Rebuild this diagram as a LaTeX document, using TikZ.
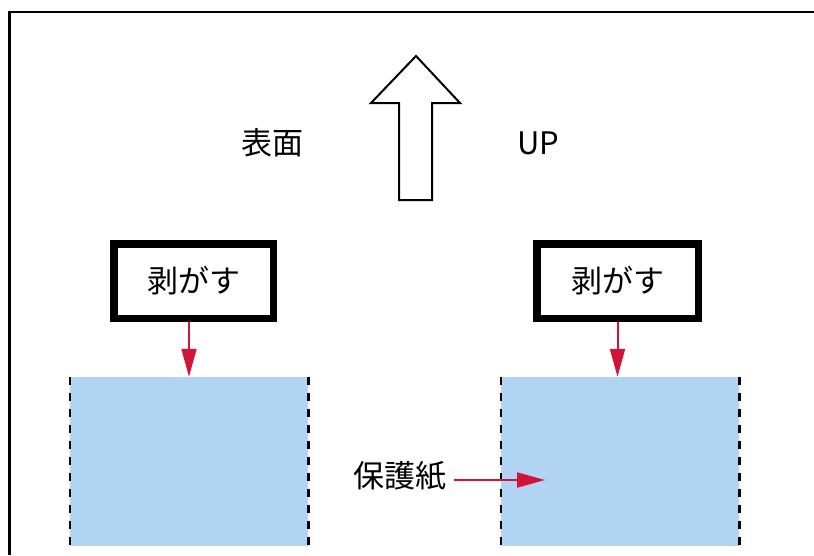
\documentclass[tikz,border=0pt]{standalone}
\usepackage{fontspec}
\setmainfont{Noto Sans CJK JP}
\usetikzlibrary{arrows.meta}
\definecolor{paperblue}{HTML}{B0D4F2}
\definecolor{peelred}{HTML}{D2143A}

\begin{document}
\begin{tikzpicture}[x=1pt, y=-1pt,
    label/.style={font=\fontsize{31}{37}\selectfont, inner sep=3pt},
    peelbox/.style={draw, line width=7.5pt, fill=white, label, minimum height=74.5pt},
    sheet/.style={fill=paperblue, minimum width=238pt, minimum height=169pt, inner sep=0pt},
    sheetedge/.style={line width=2.6pt, dash pattern=on 8pt off 8pt},
    peelarrow/.style={draw=peelred, line width=2pt, -{Triangle[length=28pt, width=15pt]}, color=peelred}]
    \useasboundingbox (0,0) rectangle (814,555);

    % Marco
    \draw[line width=2.3pt] (9.5,555) -- (9.5,12.2) -- (814,12.2);

    % Flecha hueca
    \draw[line width=2pt, line join=miter] (399,200) -- (399,103) -- (371,103) -- (416,56)
        -- (460,103) -- (432,103) -- (432,200) -- cycle;
    \node (surface) [label] at (272,143) {表面};
    \node (up) [label] at (538,143) {UP};

    % Hojas protectoras
    \node (paperL) [sheet] at (189,461.5) {};
    \node (paperR) [sheet] at (620,461.5) {};
    \draw[sheetedge] (paperL.north west) -- (paperL.south west);
    \draw[sheetedge] (paperL.north east) -- (paperL.south east);
    \draw[sheetedge] (paperR.north west) -- (paperR.south west);
    \draw[sheetedge] (paperR.north east) -- (paperR.south east);

    % Cajas
    \node (peelL) [peelbox, minimum width=159.5pt] at (193.5,281) {剥がす};
    \node (peelR) [peelbox, minimum width=161.5pt] at (617.5,281) {剥がす};
    \node (cover) [label] at (400,476) {保護紙};
    \coordinate (coverTip) at (545,480);

    % Flechas
    \draw[peelarrow] (peelL.south -| paperL.north) -- (paperL.north);
    \draw[peelarrow] (peelR.south) -- (peelR.south |- paperR.north);
    \draw[peelarrow] ([xshift=4pt]cover.east |- coverTip) -- (coverTip);
\end{tikzpicture}
\end{document}
